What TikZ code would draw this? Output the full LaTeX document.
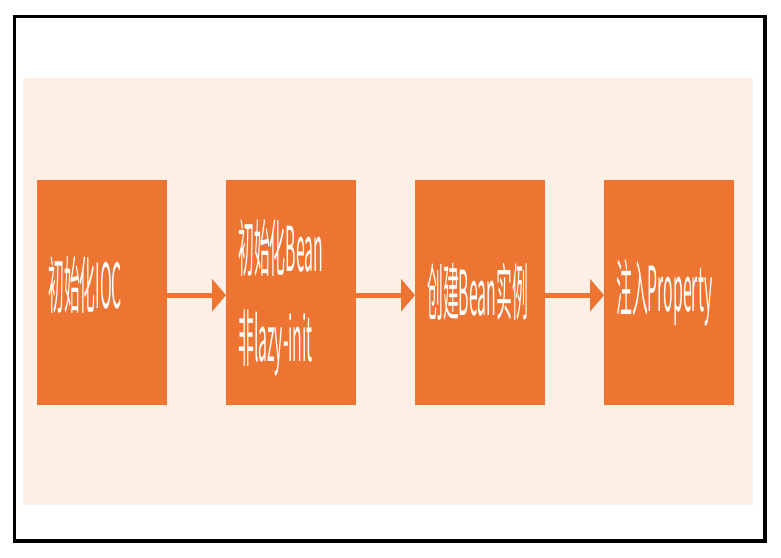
\documentclass[tikz,border=0pt]{standalone}
\usepackage{fontspec}
\setmainfont{Noto Sans CJK SC}
\usetikzlibrary{arrows.meta}
\definecolor{boxorange}{HTML}{ED7431}
\definecolor{peach}{HTML}{FCEFE5}
\tikzset{
  stepbox/.style={fill=boxorange, draw=none, minimum width=130pt, minimum height=225pt, inner sep=0pt, anchor=north west},
  steptext/.style={text=white, inner sep=0pt, anchor=base west, font=\fontsize{62pt}{90pt}\selectfont},
  arr/.style={draw=boxorange, line width=5pt, -{Triangle[length=14pt,width=32pt]}}
}
\newcommand{\sq}[1]{\scalebox{0.255}[1]{#1}}
\begin{document}
\begin{tikzpicture}[x=1pt,y=-1pt]
\useasboundingbox (0,0) rectangle (781,557);
\fill[white] (0,0) rectangle (781,557);
\fill[peach] (23,78) rectangle (753,505);
\draw[line width=3.3pt] (14.5,16.5) rectangle (765,541);
\node[stepbox] (b1) at (37,180) {};
\node[stepbox] (b2) at (226,180) {};
\node[stepbox] (b3) at (415,180) {};
\node[stepbox] (b4) at (604,180) {};
\node[steptext] (t1) at (48,308) {\sq{初始化IOC}};
\node[steptext] (t2a) at (238,271) {\sq{初始化Bean}};
\node[steptext] (t2b) at (238,361) {\sq{非lazy-init}};
\node[steptext] (t3) at (427,315) {\sq{创建Bean实例}};
\node[steptext] (t4) at (616,311) {\sq{注入Property}};
\draw[arr] ([yshift=-2.5pt]b1.east) -- ([yshift=-2.5pt]b2.west);
\draw[arr] ([yshift=-2.5pt]b2.east) -- ([yshift=-2.5pt]b3.west);
\draw[arr] ([yshift=-2.5pt]b3.east) -- ([yshift=-2.5pt]b4.west);
\end{tikzpicture}
\end{document}
